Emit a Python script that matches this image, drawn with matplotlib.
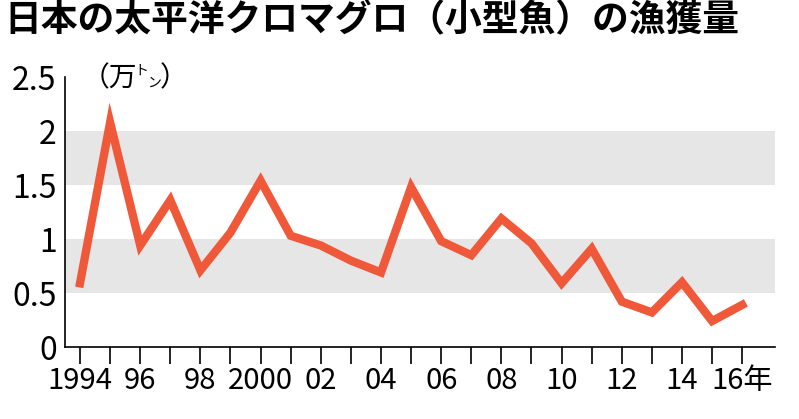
import matplotlib
matplotlib.use('Agg')
from matplotlib import pyplot as plt

plt.rcParams['font.family'] = ['Noto Sans CJK JP', 'DejaVu Sans']

years = list(range(1994, 2017))
catch = [0.59, 2.08, 0.94, 1.36, 0.71, 1.06, 1.54, 1.03, 0.94, 0.80, 0.69, 1.48,
         0.98, 0.85, 1.19, 0.96, 0.59, 0.91, 0.42, 0.32, 0.60, 0.24, 0.39]
xtick_years = list(range(1994, 2017, 2))
xtick_labels = ['1994', '96', '98', '2000', '02', '04', '06', '08', '10', '12', '14', '16年']
yticks = [0, 0.5, 1, 1.5, 2, 2.5]
ytick_labels = ['0', '0.5', '1', '1.5', '2', '2.5']

fig = plt.figure(figsize=(7.99, 4.19), dpi=100)
ax = fig.add_axes([65 / 799, 1 - 347 / 419, 710 / 799, 270 / 419])

for lo, hi in [(0.5, 1.0), (1.5, 2.0)]:
    ax.axhspan(lo, hi, color='#e6e6e6', lw=0, zorder=0)

ax.plot(years, catch, color='#f0583a', lw=6, solid_joinstyle='miter', zorder=3)

ax.set_xlim(1994 - 15 / 30.1, 1994 + (775 - 80) / 30.1)
ax.set_ylim(0, 2.5)
ax.set_xticks(xtick_years)
ax.set_xticklabels(xtick_labels)
ax.set_xticks(years, minor=True)
ax.set_yticks(yticks)
ax.set_yticklabels(ytick_labels)
for s in ['top', 'right']:
    ax.spines[s].set_visible(False)
for s in ['left', 'bottom']:
    ax.spines[s].set_linewidth(1.2)
ax.tick_params(axis='x', which='both', direction='out', length=12, width=1.2, labelsize=21, pad=2)
ax.tick_params(axis='y', length=0, labelsize=23, pad=6)

fig.text(0.005, 0.995, '日本の太平洋クロマグロ（小型魚）の漁獲量', fontsize=26.5,
         fontweight='bold', va='top', ha='left')
fig.text(82 / 799, 1 - 78 / 419, '（万', fontsize=20, va='center', ha='left')
fig.text(134 / 799, 1 - 71 / 419, 'ト', fontsize=10, va='center', ha='left')
fig.text(147 / 799, 1 - 83 / 419, 'ン', fontsize=10, va='center', ha='left')
fig.text(160 / 799, 1 - 78 / 419, '）', fontsize=20, va='center', ha='left')

fig.savefig('out.png', dpi=100)
